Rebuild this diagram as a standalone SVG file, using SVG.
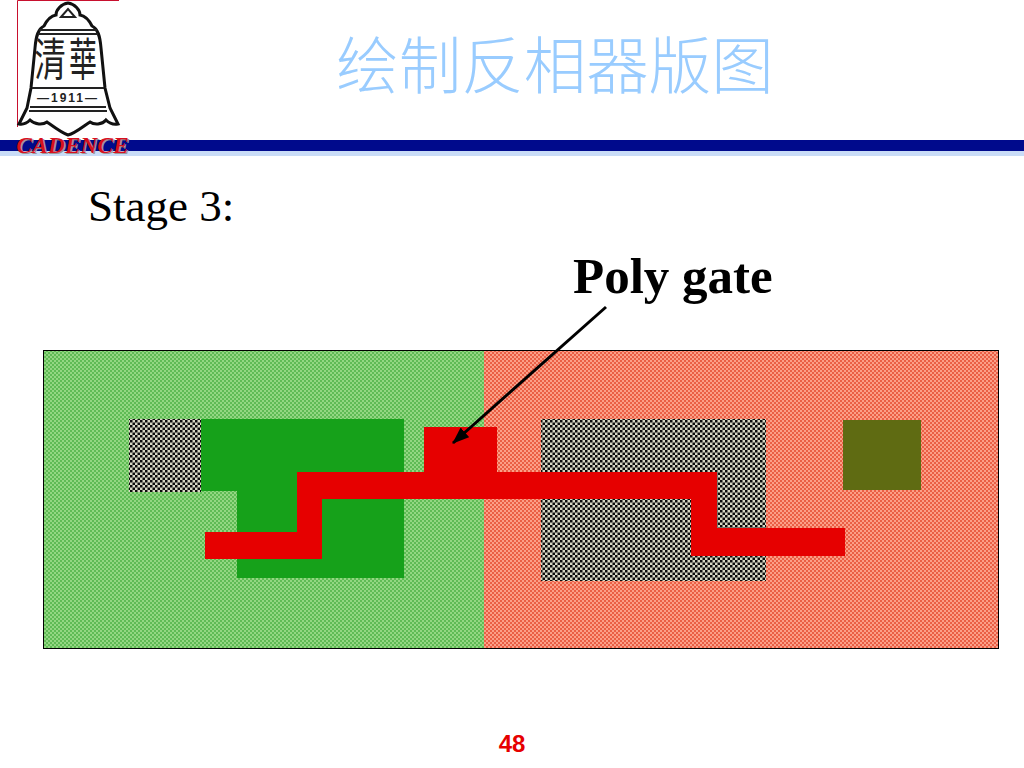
<svg xmlns="http://www.w3.org/2000/svg" width="1024" height="768" viewBox="0 0 1024 768">
<defs>
<pattern id="gr" width="4" height="4" patternUnits="userSpaceOnUse"><rect width="4" height="4" fill="#93d782"/><rect width="2" height="2" fill="#5fbb55"/><rect x="2" y="2" width="2" height="2" fill="#5fbb55"/></pattern>
<pattern id="rd" width="4" height="4" patternUnits="userSpaceOnUse"><rect width="4" height="4" fill="#fb9f88"/><rect width="2" height="2" fill="#ea5f45"/><rect x="2" y="2" width="2" height="2" fill="#ea5f45"/></pattern>
<pattern id="ck" width="5" height="5" patternUnits="userSpaceOnUse"><rect width="5" height="5" fill="#d8d8c4"/><rect width="2.500" height="2.500" fill="#0c0c0c"/><rect x="2.500" y="2.500" width="2.500" height="2.500" fill="#0c0c0c"/></pattern>
<marker id="ah" markerWidth="17" markerHeight="13" refX="16" refY="6.5" orient="auto" markerUnits="userSpaceOnUse"><path d="M0 0L17 6.5L0 13z" fill="#000"/></marker>
</defs>
<style>
.s{font-family:"Liberation Serif","Noto Sans CJK SC",serif}
.bell{fill:#fff;stroke:#111;stroke-width:3}
.ln{stroke:#222;stroke-width:2;fill:none}
.seal{font-family:"Noto Sans CJK TC",sans-serif;font-size:31px;fill:#222;text-anchor:middle}
.cad{font-family:"Liberation Serif",serif;font-size:23.500px;font-weight:bold;font-style:italic;text-anchor:middle}
</style>
<rect width="1024" height="768" fill="#fff"/>
<g id="header">
<rect y="140" width="1024" height="11" fill="#000a8c"/>
<rect y="151" width="1024" height="5" fill="#c9dcf7"/>
<path d="M17.500 127V.5H119" fill="none" stroke="#c8102e" stroke-width="1"/>
</g>
<g id="logo">
<path class="bell" d="M68 3C61 4 56 10 56 15C50 16 47 20 44 26C38 29 36 36 35 48L31 88L27 108L19 124C24 125 27 123 30 120C35 125 43 125 47 122C54 127 62 133 68 135C76 133 82 127 90 122C94 125 102 125 106 120C109 123 113 125 118 124L110 108L105 88L101 48C100 36 98 29 92 26C89 20 86 16 80 15C80 10 75 4 68 3Z"/>
<path class="ln" d="M61 17L68 9L75 17ZM39 30H97M38 34H98M32 88H104M30 107H106M29 111H107"/>
<text class="seal" transform="translate(50 76) scale(1 1.45)">清</text>
<text class="seal" transform="translate(83 76) scale(.9 1.45)">華</text>
<text x="68" y="102" font-family="Liberation Sans,sans-serif" font-size="12" font-weight="bold" text-anchor="middle" letter-spacing="2" fill="#222">—1911—</text>
<text x="74" y="154" class="cad" fill="#999">CADENCE</text>
<text x="72.500" y="152.500" class="cad" fill="#d80f1e">CADENCE</text>
</g>
<text id="title" x="555" y="89" font-size="62.500" font-weight="300" text-anchor="middle" fill="#99ccff" style="font-family:'Noto Sans CJK SC',sans-serif">绘制反相器版图</text>
<text id="stage" x="88" y="221" class="s" font-size="45" fill="#000">Stage 3:</text>
<text id="polylabel" x="573" y="293" class="s" font-size="51" font-weight="bold" fill="#000">Poly gate</text>
<g id="layout">
<rect x="43.500" y="350.500" width="441" height="298" fill="url(#gr)"/>
<rect x="484" y="350.500" width="515" height="298" fill="url(#rd)"/>
<rect x="43.500" y="350.500" width="955" height="298" fill="none" stroke="#000"/>
<rect x="129" y="419" width="72" height="73" fill="url(#ck)"/>
<path d="M201 419H404V578H237V491H201Z" fill="#16a11a"/>
<rect x="541" y="419" width="225" height="162" fill="url(#ck)"/>
<rect x="843" y="420" width="78" height="70" fill="#5f6b12"/>
<path d="M297 472H424V427H497V472H717V528H845V556H691V499H322V559H205V532H297Z" fill="#e60000"/>
</g>
<g id="connectors">
<path d="M606 307L453 443" fill="none" stroke="#000" stroke-width="3" marker-end="url(#ah)"/>
</g>
<text id="page" x="512" y="752" font-family="Liberation Sans,sans-serif" font-size="24" font-weight="bold" text-anchor="middle" fill="#e60000">48</text>
</svg>
